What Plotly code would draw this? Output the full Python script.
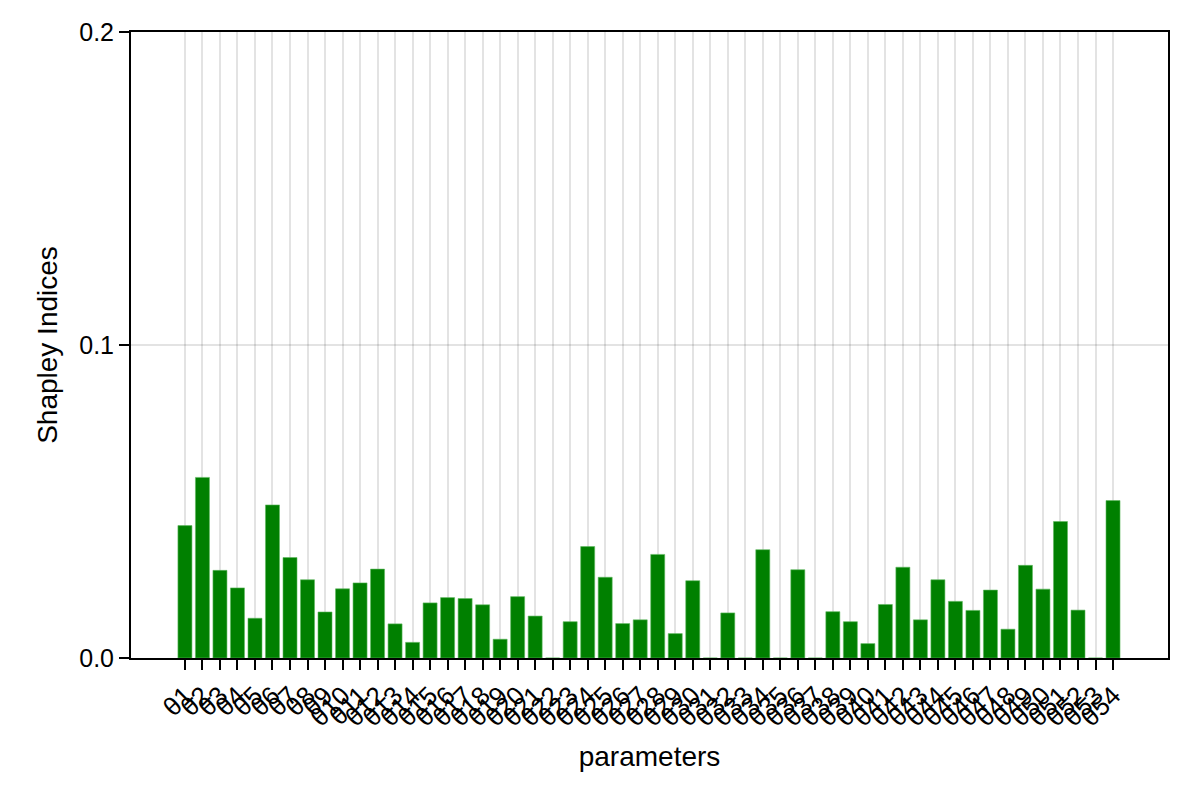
import plotly.graph_objects as go

# Shapley indices per parameter (theta1..theta54)
params = [f"θ{i}" for i in range(1, 55)]
shapley = [
    0.0423, 0.0577, 0.0280, 0.0224, 0.0127, 0.0489, 0.0321, 0.0250, 0.0147, 0.0221,
    0.0240, 0.0284, 0.0109, 0.0050, 0.0176, 0.0193, 0.0190, 0.0170, 0.0060, 0.0196,
    0.0134, 0.0, 0.0116, 0.0356, 0.0258, 0.0110, 0.0122, 0.0331, 0.0078, 0.0247,
    0.0, 0.0144, 0.0, 0.0346, 0.0, 0.0282, 0.0, 0.0148, 0.0116, 0.0046,
    0.0171, 0.0290, 0.0122, 0.0250, 0.0181, 0.0152, 0.0217, 0.0092, 0.0296, 0.0220,
    0.0436, 0.0153, 0.0, 0.0503,
]
y_ticks = [0.0, 0.1, 0.2]

x_pos = list(range(1, len(params) + 1))

fig = go.Figure()
fig.add_trace(go.Bar(
    x=x_pos, y=shapley, width=0.8,
    marker=dict(color="#008000", line=dict(color="#5fb85f", width=0.6)),
    showlegend=False,
))

font = "Liberation Sans, Arial, sans-serif"
# page body adds ~8px offset, margins compensate for it
fig.update_layout(
    width=1200, height=800,
    margin=dict(l=123, r=40, t=24, b=150),
    plot_bgcolor="white", paper_bgcolor="white",
    font=dict(family=font, size=23, color="black"),
    bargap=0.2,
)
fig.update_xaxes(
    range=[-2.08, 57.14],
    tickmode="array", tickvals=x_pos, ticktext=params, tickangle=-45,
    tickfont=dict(size=26),
    ticks="outside", ticklen=10, tickwidth=1.5, tickcolor="black",
    showgrid=True, gridcolor="rgba(0,0,0,0.11)", gridwidth=1.5,
    showline=True, linecolor="black", linewidth=2, mirror=True,
    zeroline=False,
    title=dict(text="parameters", standoff=15),
    automargin=False,
)
fig.update_yaxes(
    range=[0, 0.2],
    tickmode="array", tickvals=y_ticks, tickformat=".1f",
    tickfont=dict(size=25),
    ticks="outside", ticklen=10, tickwidth=1.5, tickcolor="black",
    showgrid=True, gridcolor="rgba(0,0,0,0.11)", gridwidth=1.5,
    showline=True, linecolor="black", linewidth=2, mirror=True,
    zeroline=False,
    title=dict(text="Shapley Indices", standoff=13),
    automargin=False,
)

fig.write_html("out.html")
